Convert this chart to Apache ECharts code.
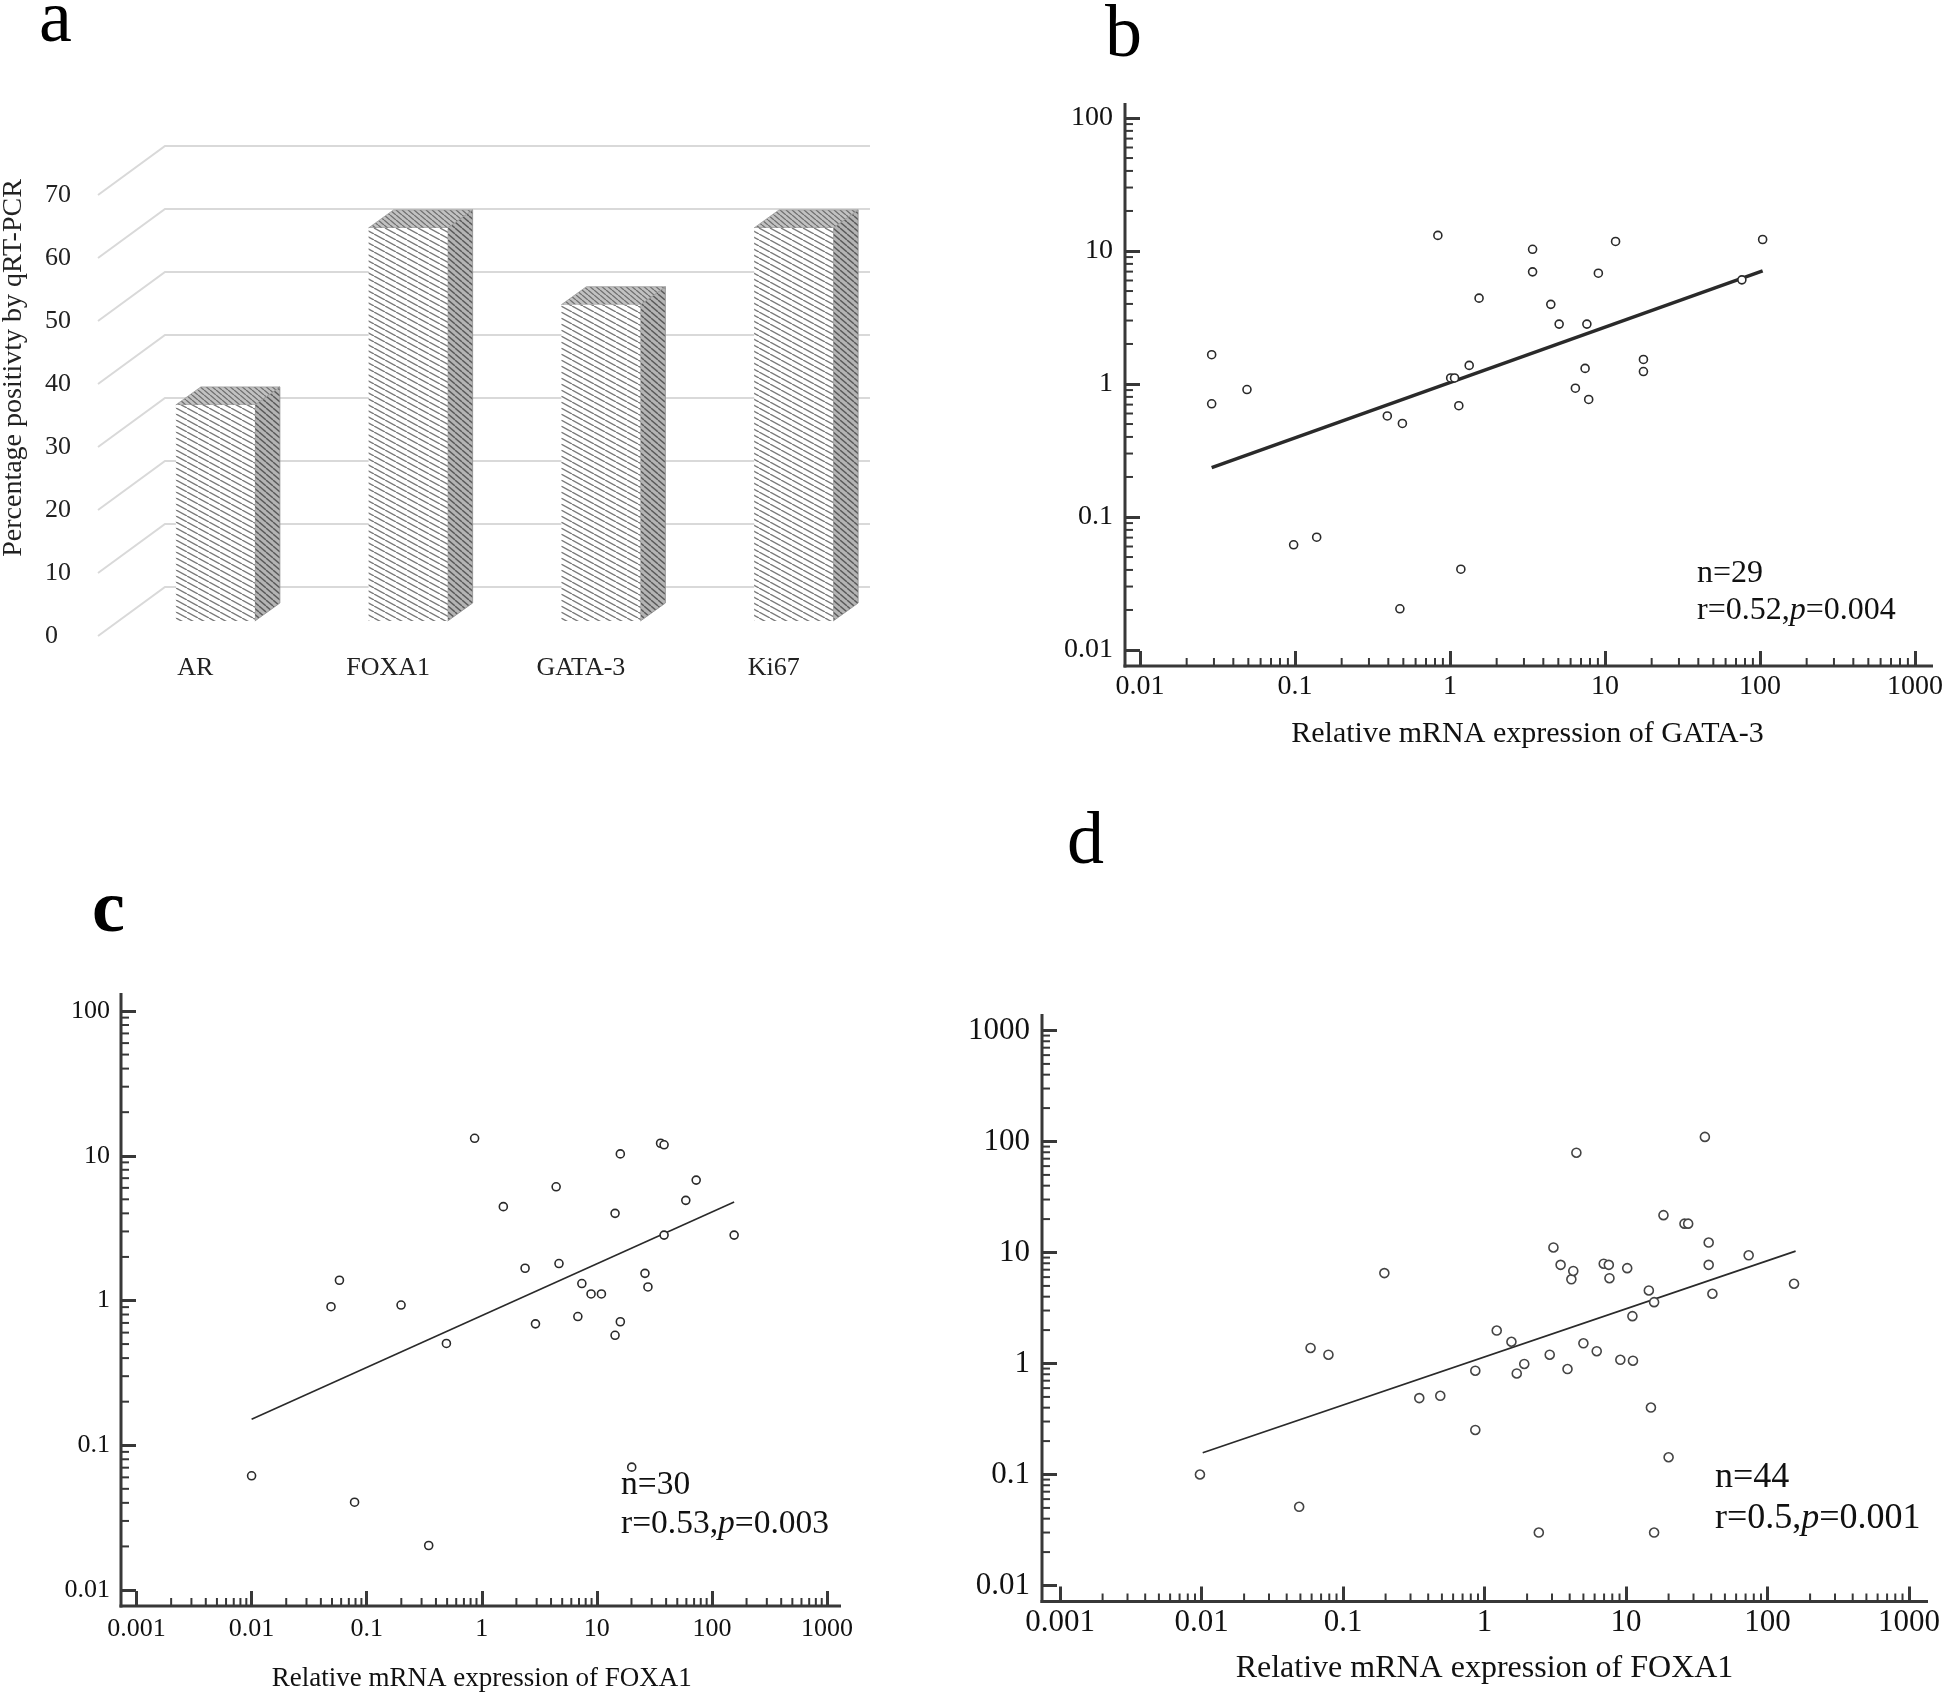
<!DOCTYPE html>
<html><head><meta charset="utf-8">
<script src="https://cdn.jsdelivr.net/npm/echarts@6/dist/echarts.min.js"></script>
<style>html,body{margin:0;padding:0;background:#fff}#main{width:1946px;height:1694px}</style>
</head><body><div id="main"></div>
<script>
// ---------- DATA ----------
const categoriesA = ['AR', 'FOXA1', 'GATA-3', 'Ki67'];
const valuesA = [34.3, 62.4, 50.2, 62.4];
const yTicksA = [0, 10, 20, 30, 40, 50, 60, 70];

const gataX = [0.029,0.029,0.049,0.098,0.138,0.394,0.493,0.475,0.835,1.01,1.07,1.14,1.175,1.33,1.54,3.41,3.41,4.47,5.06,6.44,7.44,7.64,7.85,9.06,11.7,17.7,17.7,76.4,104];
const gataY = [1.66,0.71,0.908,0.0618,0.0705,0.575,0.505,0.0204,13.1,1.11,1.11,0.687,0.0405,1.38,4.42,10.3,6.97,3.97,2.82,0.93,1.31,2.82,0.765,6.81,11.8,1.53,1.24,6.07,12.2];
const gataFitX = [0.029, 104];
const gataFitY = [0.235, 7.1];

const foxaCX = [0.01,0.049,0.058,0.0785,0.199,0.346,0.493,0.867,1.54,2.38,2.93,4.43,4.69,6.84,7.41,8.91,10.96,14.4,14.4,16.0,16.0,20.1,26.2,27.8,35.8,38.4,38.4,59.3,73,156];
const foxaCY = [0.0615,0.906,1.38,0.0404,0.93,0.0203,0.505,13.2,4.45,1.67,0.69,6.1,1.8,0.775,1.31,1.11,1.11,4.0,0.575,10.3,0.713,0.0706,1.54,1.24,12.2,11.9,2.83,4.92,6.79,2.83];
const foxaCFitX = [0.01, 156];
const foxaCFitY = [0.151, 4.79];

const foxaDX = [0.00975,0.049,0.059,0.0789,0.196,0.346,0.487,0.861,0.861,1.22,1.55,1.69,1.91,2.42,2.89,3.07,3.45,3.86,4.11,4.24,4.46,5.0,6.21,6.96,7.56,7.64,9.12,10.2,11.1,11.2,14.5,15.0,15.8,15.8,18.4,20.0,25.9,27.5,36.1,38.4,38.4,40.8,73.6,154];
const foxaDY = [0.1,0.0512,1.38,1.2,6.52,0.488,0.512,0.861,0.252,1.98,1.57,0.813,0.99,0.030,1.2,11.1,7.74,0.892,5.74,6.82,79.3,1.52,1.29,7.93,7.74,5.87,1.08,7.23,2.67,1.06,4.55,0.401,3.57,0.030,21.7,0.143,18.2,18.2,110,12.3,7.74,4.25,9.44,5.23];
const foxaDFitX = [0.0102, 158];
const foxaDFitY = [0.157, 10.3];

const xTicksB = ['0.01','0.1','1','10','100','1000'];
const yTicksB = ['0.01','0.1','1','10','100'];
const xTicksC = ['0.001','0.01','0.1','1','10','100','1000'];
const yTicksC = ['0.01','0.1','1','10','100'];
const xTicksD = ['0.001','0.01','0.1','1','10','100','1000'];
const yTicksD = ['0.01','0.1','1','10','100','1000'];

const statsB = ['n=29', 'r=0.52,', '=0.004'];
const statsC = ['n=30', 'r=0.53,', '=0.003'];
const statsD = ['n=44', 'r=0.5,', '=0.001'];

// ---------- STYLE / LAYOUT ----------
const FONT = '"Liberation Serif","Times New Roman",serif';
const AX = '#383838';
const TXT = '#111';

function makePattern(bg, line, w, h, lw) {
  const c = document.createElement('canvas');
  c.width = w; c.height = h;
  const g = c.getContext('2d');
  g.fillStyle = bg; g.fillRect(0, 0, w, h);
  g.strokeStyle = line; g.lineWidth = lw;
  for (const s of [-w, 0, w]) {
    g.beginPath(); g.moveTo(s, 0); g.lineTo(s + w, h); g.stroke();
  }
  return { image: c, repeat: 'repeat' };
}
const patFront = makePattern('#ffffff', '#7a7a7a', 11, 6, 1.4);
const patSide = makePattern('#b4b4b4', '#5a5a5a', 7, 6, 1.4);
const patTop = makePattern('#c2c2c2', '#6e6e6e', 6, 5, 1.3);

const grids = [
  { left: 99, top: 195, width: 771, height: 441 },
  { left: 1140, top: 118, width: 776, height: 532 },
  { left: 136.5, top: 1011, width: 690.5, height: 579 },
  { left: 1060, top: 1030.5, width: 849, height: 555 }
];

function fmt(labels, v) {
  const lv = Math.log10(v);
  for (const s of labels) if (Math.abs(Math.log10(parseFloat(s)) - lv) < 0.01) return s;
  return '';
}

function logAxis(gridIndex, labels, offset, fontSize, margin, name, nameGap, nameSize) {
  const ax = {
    type: 'log', logBase: 10, gridIndex,
    min: parseFloat(labels[0]), max: parseFloat(labels[labels.length - 1]),
    splitNumber: labels.length - 1,
    offset,
    axisLine: { show: false },
    axisTick: { show: true, inside: true, length: 15, lineStyle: { color: AX, width: 3 } },
    minorTick: { show: false },
    splitLine: { show: false },
    axisLabel: { fontFamily: FONT, fontSize, color: TXT, margin, formatter: v => fmt(labels, v) }
  };
  if (name) {
    ax.name = name; ax.nameLocation = 'middle'; ax.nameGap = nameGap;
    ax.nameTextStyle = { fontFamily: FONT, fontSize: nameSize, color: TXT };
  }
  return ax;
}

function minorTicks(idx, dim, labels, otherVal, offset, len) {
  const lo = Math.round(Math.log10(parseFloat(labels[0])));
  const hi = Math.round(Math.log10(parseFloat(labels[labels.length - 1])));
  const data = [];
  for (let k = lo; k < hi; k++) for (let m = 2; m <= 9; m++) {
    const v = m * Math.pow(10, k);
    data.push(dim === 'x' ? [v, otherVal] : [otherVal, v]);
  }
  return {
    type: 'custom', xAxisIndex: idx, yAxisIndex: idx, silent: true, clip: false, z: 5,
    data,
    renderItem: (params, api) => {
      const p = api.coord([api.value(0), api.value(1)]);
      if (dim === 'x') {
        const y0 = p[1] + offset;
        return { type: 'line', shape: { x1: p[0], y1: y0, x2: p[0], y2: y0 - len }, style: { stroke: AX, lineWidth: 2 } };
      } else {
        const x0 = p[0] - offset;
        return { type: 'line', shape: { x1: x0, y1: p[1], x2: x0 + len, y2: p[1] }, style: { stroke: AX, lineWidth: 2 } };
      }
    }
  };
}

function scatterSeries(idx, xs, ys, size, color) {
  return {
    type: 'scatter', xAxisIndex: idx, yAxisIndex: idx, symbol: 'circle', symbolSize: size, z: 4,
    data: xs.map((x, i) => [x, ys[i]]),
    itemStyle: { color: '#fff', borderColor: color, borderWidth: 1.6, opacity: 1 }
  };
}
function fitSeries(idx, xs, ys, width) {
  return {
    type: 'line', xAxisIndex: idx, yAxisIndex: idx, symbol: 'none', z: 3, silent: true,
    data: xs.map((x, i) => [x, ys[i]]),
    lineStyle: { color: '#2a2a2a', width }
  };
}

function axisLinesGraphic(yLineX, xLineY, yTop, xRight) {
  return [
    { type: 'line', shape: { x1: yLineX, y1: yTop, x2: yLineX, y2: xLineY + 1.5 }, style: { stroke: AX, lineWidth: 3 } },
    { type: 'line', shape: { x1: yLineX - 1.5, y1: xLineY, x2: xRight, y2: xLineY }, style: { stroke: AX, lineWidth: 3 } }
  ];
}

function letter(t, x, y, bold) {
  return { type: 'text', x, y, style: { text: t, font: (bold ? 'bold ' : '') + '74px ' + FONT, fill: '#000', align: 'left', verticalAlign: 'middle' } };
}
function stats(s, x, y1, y2, fs) {
  return [
    { type: 'text', x, y: y1, style: { text: s[0], font: fs + 'px ' + FONT, fill: TXT, align: 'left', verticalAlign: 'middle' } },
    { type: 'text', x, y: y2, style: {
        text: '{t|' + s[1] + '}{i|p}{t|' + s[2] + '}', fill: TXT, align: 'left', verticalAlign: 'middle',
        rich: { t: { fontFamily: FONT, fontSize: fs, fill: TXT }, i: { fontFamily: FONT, fontSize: fs, fontStyle: 'italic', fill: TXT } }
    } }
  ];
}

const wallSeries = {
  type: 'custom', xAxisIndex: 0, yAxisIndex: 0, silent: true, clip: false, z: 1,
  data: yTicksA.map(v => [0, v]),
  renderItem: (params, api) => {
    const cs = params.coordSys;
    const y = api.coord([0, api.value(1)])[1];
    return { type: 'polyline', shape: { points: [[cs.x - 1, y], [cs.x + 66, y - 49], [cs.x + cs.width, y - 49]] },
      style: { stroke: '#d9d9d9', lineWidth: 2, fill: null } };
  }
};

const barSeries = {
  type: 'custom', xAxisIndex: 0, yAxisIndex: 0, silent: true, clip: false, z: 2,
  data: valuesA.map((v, i) => [i, v]),
  renderItem: (params, api) => {
    const i = api.value(0), v = api.value(1);
    const top = api.coord([i, v]), base = api.coord([i, 0]);
    const sx = 20, sy = -15, hw = 39.5, dx = 25, dy = -18;
    const xl = top[0] + sx - hw, xr = top[0] + sx + hw, yt = top[1] + sy, yb = base[1] + sy;
    return { type: 'group', children: [
      { type: 'polygon', shape: { points: [[xr, yt], [xr, yb], [xr + dx, yb + dy], [xr + dx, yt + dy]] }, style: { fill: patSide, stroke: '#8c8c8c', lineWidth: 0.8 } },
      { type: 'polygon', shape: { points: [[xl, yt], [xr, yt], [xr + dx, yt + dy], [xl + dx, yt + dy]] }, style: { fill: patTop, stroke: '#9a9a9a', lineWidth: 0.8 } },
      { type: 'rect', shape: { x: xl, y: yt, width: xr - xl, height: yb - yt }, style: { fill: patFront } }
    ] };
  }
};

const option = {
  backgroundColor: '#fff',
  animation: false,
  grid: grids,
  xAxis: [
    { type: 'category', gridIndex: 0, data: categoriesA, axisLine: { show: false }, axisTick: { show: false },
      axisLabel: { fontFamily: FONT, fontSize: 26, color: '#222', margin: 19 } },
    logAxis(1, xTicksB, 16, 28, 7, 'Relative mRNA expression of GATA-3', 53, 30),
    logAxis(2, xTicksC, 16, 26, 10, 'Relative mRNA expression of FOXA1', 59, 27),
    logAxis(3, xTicksD, 16, 31, 6, 'Relative mRNA expression of FOXA1', 51, 32)
  ],
  yAxis: [
    { type: 'value', gridIndex: 0, min: yTicksA[0], max: yTicksA[yTicksA.length - 1], interval: 10,
      axisLine: { show: false }, axisTick: { show: false }, splitLine: { show: false },
      axisLabel: { fontFamily: FONT, fontSize: 26, color: '#222', margin: 54, align: 'left' } },
    logAxis(1, yTicksB, 15, 28, 12),
    logAxis(2, yTicksC, 15.5, 26, 11),
    logAxis(3, yTicksD, 18, 31, 12)
  ],
  series: [
    wallSeries, barSeries,
    minorTicks(1, 'x', xTicksB, 0.01, 16, 8), minorTicks(1, 'y', yTicksB, 0.01, 15, 8),
    minorTicks(2, 'x', xTicksC, 0.01, 16, 8), minorTicks(2, 'y', yTicksC, 0.001, 15.5, 8),
    minorTicks(3, 'x', xTicksD, 0.01, 16, 8), minorTicks(3, 'y', yTicksD, 0.001, 18, 8),
    fitSeries(1, gataFitX, gataFitY, 3.5), scatterSeries(1, gataX, gataY, 8, '#2a2a2a'),
    fitSeries(2, foxaCFitX, foxaCFitY, 1.6), scatterSeries(2, foxaCX, foxaCY, 8, '#2a2a2a'),
    fitSeries(3, foxaDFitX, foxaDFitY, 1.8), scatterSeries(3, foxaDX, foxaDY, 9, '#444')
  ],
  graphic: [
    letter('a', 39, 22, false), letter('b', 1105, 37, false), letter('c', 92, 912, true), letter('d', 1067, 844, false),
    { type: 'text', x: 14, y: 368, rotation: Math.PI / 2,
      style: { text: 'Percentage positivty by qRT-PCR', font: '28px ' + FONT, fill: '#222', align: 'center', verticalAlign: 'middle' } },
    ...axisLinesGraphic(1125, 666, 103, 1933),
    ...axisLinesGraphic(121, 1606, 993, 841),
    ...axisLinesGraphic(1042, 1601.5, 1014, 1928),
    ...stats(statsB, 1697, 574, 611, 32),
    ...stats(statsC, 621, 1485, 1524, 33.5),
    ...stats(statsD, 1715, 1478, 1519, 36)
  ]
};

const chart = echarts.init(document.getElementById('main'), null, { renderer: 'canvas' });
chart.setOption(option);
</script>
</body></html>
